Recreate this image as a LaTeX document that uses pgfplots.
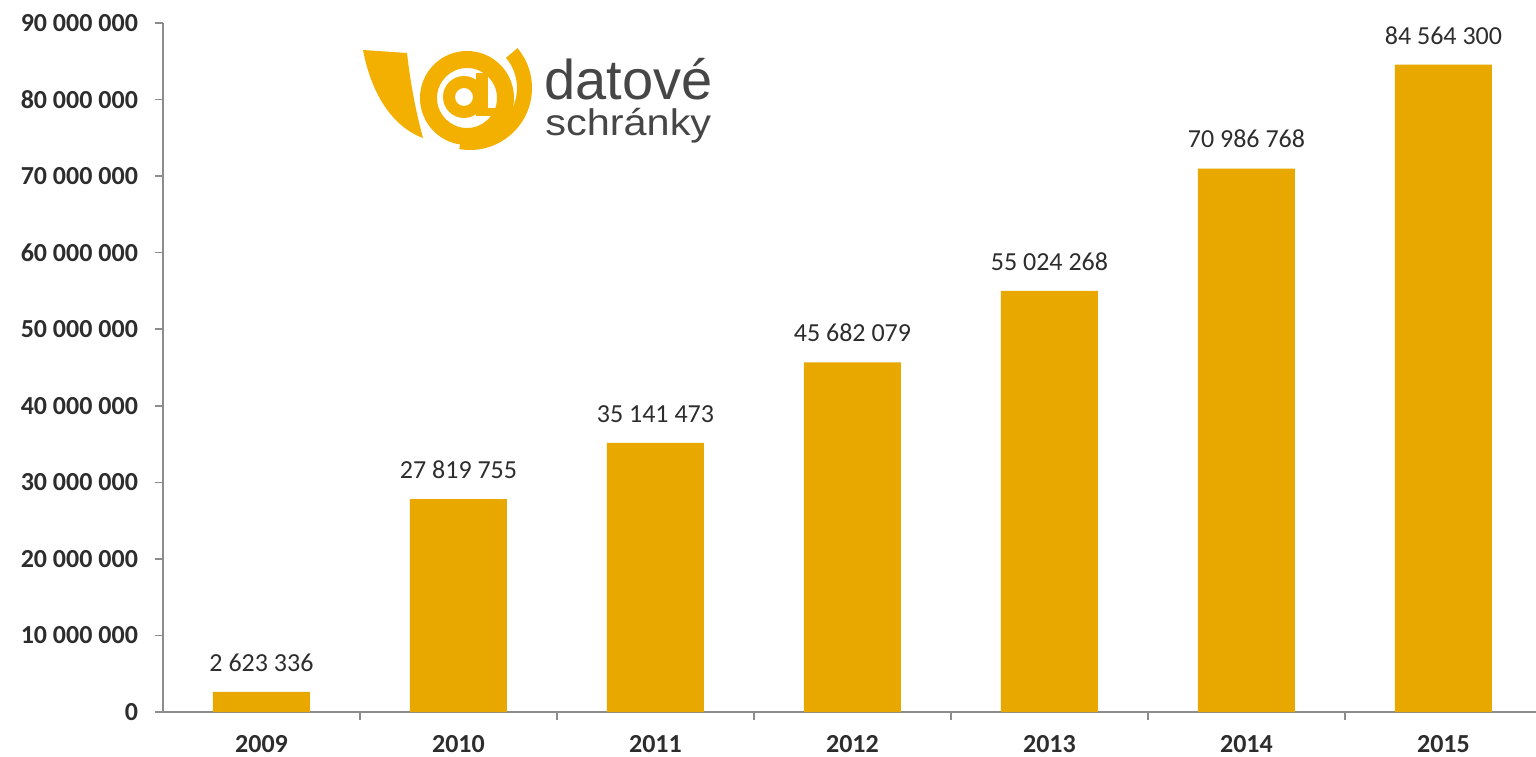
\documentclass[border=0pt]{standalone}
\usepackage{fontspec}
\setmainfont{Carlito}
\newfontfamily\logofont{Liberation Sans}
\usepackage{pgfplots}
\pgfplotsset{compat=1.18}
\definecolor{barorange}{RGB}{233,168,0}
\definecolor{logoorange}{RGB}{244,176,0}
\definecolor{axisgray}{RGB}{140,140,140}
\definecolor{labelgray}{RGB}{45,45,45}
\definecolor{logogray}{RGB}{70,70,70}

\begin{document}
\begin{tikzpicture}
\useasboundingbox (-81.5pt,-22pt) rectangle (686.5pt,356pt);
\begin{axis}[
  at={(0pt,0pt)}, anchor=south west,
  scale only axis, width=686.5pt, height=344.5pt,
  xmin=-0.5, xmax=6.47, ymin=0, ymax=90000000,
  ybar, bar width=48.5pt,
  axis x line*=bottom, axis y line*=left,
  axis line style={axisgray, line width=0.8pt},
  every tick/.style={axisgray, line width=0.8pt},
  tick align=outside,
  major tick length=4pt,
  xtick={0.5,1.5,2.5,3.5,4.5,5.5},
  xticklabels=\empty,
  extra x ticks={0,1,2,3,4,5,6},
  extra x tick labels={2009,2010,2011,2012,2013,2014,2015},
  extra x tick style={major tick length=0pt,
    xticklabel style={yshift=-8pt}},
  ytick={0,10000000,20000000,30000000,40000000,50000000,60000000,70000000,80000000,90000000},
  yticklabels={0,10 000 000,20 000 000,30 000 000,40 000 000,50 000 000,60 000 000,70 000 000,80 000 000,90 000 000},
  scaled y ticks=false,
  ticklabel style={font=\bfseries\fontsize{13}{15}\selectfont, text=labelgray},
  yticklabel style={xshift=-5pt},
  point meta=explicit symbolic,
  nodes near coords,
  every node near coord/.append style={font=\fontsize{13}{15}\selectfont, text=labelgray, anchor=south, inner sep=0pt, yshift=10pt},
]
\addplot[fill=barorange, draw=none] coordinates {
  (0,2623336)  [2 623 336]
  (1,27819755) [27 819 755]
  (2,35141473) [35 141 473]
  (3,45682079) [45 682 079]
  (4,55024268) [55 024 268]
  (5,70986768) [70 986 768]
  (6,84564300) [84 564 300]
};
\end{axis}

% logo "datove schranky"
\fill[logoorange] (100pt,331pt) -- (122pt,329.5pt)
  .. controls (124pt,312pt) and (127pt,298pt) .. (130pt,287pt)
  .. controls (114pt,293pt) and (104pt,310pt) .. cycle;
\fill[logoorange] (153.5pt,312pt) ++(-100:31pt) arc[start angle=-100, end angle=40, radius=31pt]
  -- ++(220:7.5pt) arc[start angle=40, end angle=-100, radius=23.5pt] -- cycle;
\fill[logoorange, even odd rule] (152pt,307pt) circle (23.5pt) circle (15pt);
\fill[logoorange, even odd rule] (150.5pt,307.5pt) circle (10.5pt) circle (4.5pt);
\fill[logoorange] (156.5pt,298pt) rectangle (162.5pt,319.5pt);
\fill[logoorange] (156.5pt,298pt) rectangle (167.5pt,302pt);
\node[anchor=base west, inner sep=0pt, text=logogray, font=\logofont\fontsize{28}{28}\selectfont] at (190.5pt,306pt) {datové};
\node[anchor=base west, inner sep=0pt, text=logogray, font=\logofont\fontsize{18.5}{19}\selectfont] at (191pt,288pt) {\scalebox{1.12}[1]{schránky}};
\end{tikzpicture}
\end{document}
